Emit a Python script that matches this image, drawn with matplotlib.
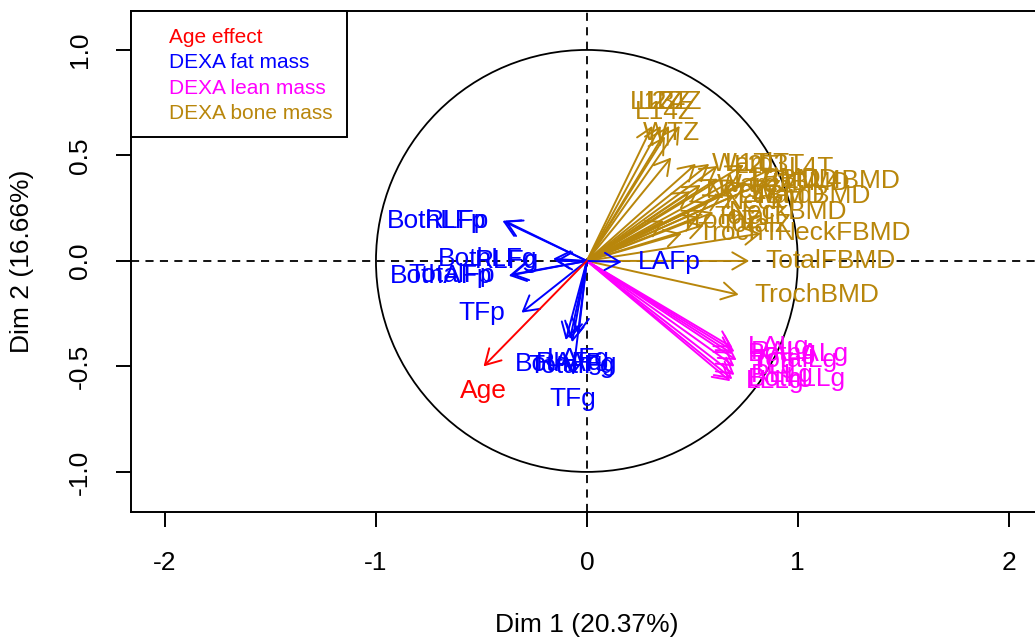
import matplotlib
matplotlib.use("Agg")
import matplotlib.pyplot as plt
from matplotlib.patches import Circle, Rectangle

plt.rcParams["font.family"] = ["Liberation Sans", "DejaVu Sans"]

# PCA variable coordinates (Dim 1, Dim 2) per variable group
age_names = ["Age"]
age_x = [-0.49]
age_y = [-0.50]

fat_names = ["BothLFp", "RLFp", "BothLFg", "RLFg", "BothAFp", "TotalFp", "TFp",
             "LAFp", "BothAFg", "TotalFg", "RAFg", "LAFg", "TFg"]
fat_x = [-0.40, -0.39, -0.16, -0.15, -0.37, -0.36, -0.31,
         0.165, -0.10, -0.07, -0.08, -0.04, -0.066]
fat_y = [0.19, 0.19, 0.01, 0.0, -0.07, -0.065, -0.245,
         -0.005, -0.375, -0.385, -0.37, -0.35, -0.54]
fat_pos = [2, 2, 2, 2, 2, 2, 2, 4, 1, 1, 1, 1, 1]

lean_names = ["LALg", "RALg", "BothALg", "TotalLg", "TLg", "RLLg", "BothLLg", "LLLg"]
lean_x = [0.69, 0.70, 0.69, 0.71, 0.70, 0.70, 0.69, 0.68]
lean_y = [-0.41, -0.43, -0.44, -0.47, -0.50, -0.54, -0.56, -0.57]

bone_names = ["L1Z", "L2Z", "L3Z", "L4Z", "L14Z", "WTZ",
              "WardT", "L1T", "L2T", "L3T", "L4T",
              "L1BMD", "L2BMD", "L3BMD", "L1L4BMD",
              "WardBMD", "L4BMD", "NeckBMD", "NeckZ", "WardZ", "NeckT", "TotalT",
              "TrochZ", "TotalZ", "TrochT", "NeckFBMD", "TotalFBMD", "TrochBMD"]
bone_x = [0.31, 0.35, 0.39, 0.44, 0.37, 0.40,
          0.517, 0.58, 0.62, 0.744, 0.88,
          0.62, 0.70, 0.76, 0.86,
          0.70, 0.64, 0.60, 0.49, 0.54, 0.58, 0.53,
          0.365, 0.555, 0.45, 0.825, 0.77, 0.72]
bone_y = [0.64, 0.64, 0.64, 0.64, 0.59, 0.49,
          0.46, 0.46, 0.45, 0.455, 0.44,
          0.39, 0.385, 0.37, 0.38,
          0.31, 0.31, 0.23, 0.33, 0.36, 0.28, 0.21,
          0.19, 0.17, 0.13, 0.13, 0.0, -0.16]
bone_pos = [3, 3, 3, 3, 3, 3] + [4] * 22

legend_labels = ["Age effect", "DEXA fat mass", "DEXA lean mass", "DEXA bone mass"]
group_colors = ["#FF0000", "#0000FF", "#FF00FF", "#B8860B"]

xlab = "Dim 1 (20.37%)"
ylab = "Dim 2 (16.66%)"

W, H = 1035, 639
fig = plt.figure(figsize=(W / 100, H / 100), dpi=100)
ax = fig.add_axes([130.7 / W, 1 - 512 / H, (1043 - 130.7) / W, (512 - 10.7) / H])
ax.set_xlim(-2.163, 2.163)
ax.set_ylim(-1.19, 1.186)

ax.axhline(0, color="black", lw=1.3, ls=(0, (4.5, 3.5)), zorder=1)
ax.axvline(0, color="black", lw=1.3, ls=(0, (4.5, 3.5)), zorder=1)
ax.add_patch(Circle((0, 0), 1, fill=False, ec="black", lw=1.3, zorder=1))

# label offsets in points, like R's text(pos=)
offsets = {1: (0, -17.5, "center", "center"),
           2: (-11.5, 0, "right", "center"),
           3: (0, 17.5, "center", "center"),
           4: (11.5, 0, "left", "center")}


def draw_group(names, xs, ys, poss, color):
    for name, x, y, p in zip(names, xs, ys, poss):
        ax.annotate("", xy=(x, y), xytext=(0, 0),
                    arrowprops=dict(arrowstyle="->,head_length=0.54,head_width=0.31",
                                    mutation_scale=20, lw=1.4, color=color,
                                    shrinkA=0, shrinkB=0), zorder=2)
    for name, x, y, p in zip(names, xs, ys, poss):
        dx, dy, ha, va = offsets[p]
        ax.annotate(name, xy=(x, y), xytext=(dx, dy), textcoords="offset points",
                    ha=ha, va=va, color=color, fontsize=19, zorder=3)


draw_group(bone_names, bone_x, bone_y, bone_pos, group_colors[3])
draw_group(lean_names, lean_x, lean_y, [4] * len(lean_names), group_colors[2])
draw_group(fat_names, fat_x, fat_y, fat_pos, group_colors[1])
draw_group(age_names, age_x, age_y, [1], group_colors[0])

# axes styling
for sp in ax.spines.values():
    sp.set_linewidth(1.4)
ax.set_xticks([-2, -1, 0, 1, 2])
ax.set_xticklabels(["-2", "-1", "0", "1", "2"])
ax.set_yticks([-1.0, -0.5, 0.0, 0.5, 1.0])
ax.set_yticklabels(["-1.0", "-0.5", "0.0", "0.5", "1.0"])
ax.tick_params(direction="out", length=11, width=1.4, labelsize=19, pad=17)
for lab in ax.get_yticklabels():
    lab.set_rotation(90)
    lab.set_va("center")

ax.set_xlabel(xlab, fontsize=19, va="center")
ax.xaxis.set_label_coords(0.5, (512 - 625) / (512 - 10.7))
ax.set_ylabel(ylab, fontsize=19, va="center")
ax.yaxis.set_label_coords((22 - 130.7) / (1043 - 130.7), 0.5)

# legend box in the top-left corner
fig.patches.append(Rectangle((130.7 / W, 1 - 137 / H), (347 - 130.7) / W, (137 - 10.7) / H,
                             transform=fig.transFigure, fc="white", ec="black", lw=1.4,
                             zorder=5))
for i, (txt, col) in enumerate(zip(legend_labels, group_colors)):
    fig.text(169 / W, 1 - (37.7 + 25.2 * i) / H, txt, color=col, fontsize=15,
             ha="left", va="center", zorder=6)

fig.savefig("out.png", dpi=100)
